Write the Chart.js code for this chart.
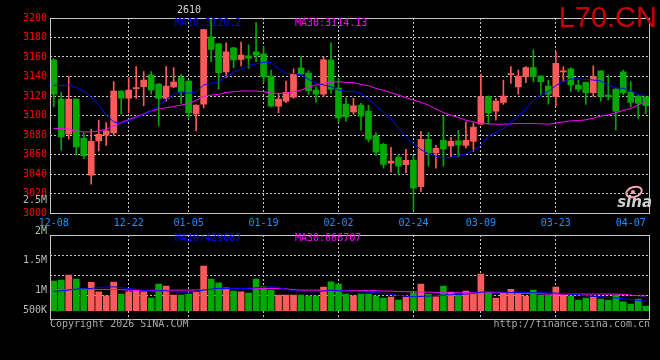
<!DOCTYPE html>
<html>
<head>
<meta charset="utf-8">
<script src="https://cdn.jsdelivr.net/npm/chart.js@4/dist/chart.umd.min.js"></script>
<style>
html, body { margin: 0; padding: 0; background: #000; }
#wrap { position: relative; width: 660px; height: 360px; background: #000; overflow: hidden; }
#kline { position: absolute; left: 0; top: 0; }
#vol { position: absolute; left: 0; top: 190px; }
</style>
</head>
<body>
<div id="wrap">
  <canvas id="kline" width="660" height="232"></canvas>
  <canvas id="vol" width="660" height="170"></canvas>
</div>
<script>
// trading days shown on the chart
const dates = [
  '12-08','12-09','12-10','12-11','12-12','12-15','12-16','12-17','12-18','12-19',
  '12-22','12-23','12-24','12-25','12-26','12-29','12-30','12-31','01-05','01-06',
  '01-07','01-08','01-09','01-12','01-13','01-14','01-15','01-16','01-19','01-20',
  '01-21','01-22','01-23','01-26','01-27','01-28','01-29','01-30','02-02','02-03',
  '02-04','02-05','02-06','02-09','02-10','02-11','02-12','02-13','02-24','02-25',
  '02-26','02-27','03-02','03-03','03-04','03-05','03-06','03-09','03-10','03-11',
  '03-12','03-13','03-16','03-17','03-18','03-19','03-20','03-23','03-24','03-25',
  '03-26','03-27','03-30','03-31','04-01','04-02','04-03','04-07','04-08','04-09'
];
const dateTicks = ['12-08','12-22','01-05','01-19','02-02','02-24','03-09','03-23','04-07'];
const dateGrid = ['12-22','01-05','01-19','02-02','02-24','03-09','03-23'];

const open = [
  3157,3116.8,3080.8,3116.8,3076.6,3038.8,3073.9,3079.7,3082.1,3125.1,
  3117.9,3127.5,3129.6,3141.6,3132.3,3117.5,3129.2,3138.8,3135.4,3101.7,
  3111.7,3180.8,3173.5,3144.7,3169.4,3157.4,3161.2,3165.3,3163.2,3140.5,
  3109.6,3114.8,3118.9,3148.8,3143.6,3126.1,3122,3157,3128.2,3111.7,
  3103.8,3110.7,3104.5,3079,3070.4,3051.2,3057,3049.5,3054,3027.1,
  3075.6,3061.5,3074.6,3068.7,3073.9,3069.4,3073.5,3091,3119.2,3104.5,
  3113.4,3142,3129.2,3139.9,3149.1,3140.5,3130.2,3119.2,3144.7,3147.8,
  3131.3,3134,3123.4,3145.7,3121,3127.1,3144.7,3124.1,3119.9,3119.2
];
const high = [
  3158,3123.7,3139.9,3117,3082.5,3085.9,3095.2,3092.8,3134.7,3125.5,
  3138.8,3150.2,3145,3145,3133,3150.2,3149.1,3142.3,3136,3111,
  3188.5,3200,3174,3174.6,3170,3175.3,3172.5,3195.2,3170.8,3146.7,
  3122.3,3135.4,3147.8,3160.5,3146,3129.5,3159.8,3174.6,3138.1,3118.2,
  3117.5,3112.4,3110.7,3082.5,3071.5,3067.4,3059.8,3065.3,3059.1,3083.8,
  3082.8,3069.4,3099.3,3077.7,3084.9,3093.5,3092.4,3142.6,3120.3,3117.5,
  3136.4,3150.2,3146.5,3150.2,3167.4,3141,3136.4,3165.3,3150.2,3149.1,
  3136.4,3134.5,3150.9,3146,3141.6,3127.5,3146.7,3134.7,3120.5,3119.5
];
const low = [
  3109,3064.3,3075.6,3059.8,3055.7,3029.6,3063.6,3069.4,3079.7,3101.4,
  3102.7,3117.5,3110,3122,3089.3,3114.8,3128.5,3112.4,3096.9,3084.2,
  3107.9,3155.3,3127.1,3138.8,3149.1,3150.9,3148.5,3155.3,3133.7,3108.6,
  3102.7,3113.1,3117.9,3142,3121.6,3113.7,3119.2,3122.7,3092.4,3094.2,
  3101.4,3084.9,3072.9,3059.1,3046,3041.9,3039.5,3041.2,3002.4,3021.9,
  3048.1,3046,3048.1,3057.4,3057.4,3066.7,3063.2,3091,3091,3095.2,
  3111.3,3133,3122,3133.7,3134.7,3121,3111.7,3110,3134.7,3124.4,
  3124.4,3111.3,3119.9,3114.8,3115.8,3084.9,3121,3108.9,3096.9,3102
];
const close = [
  3122,3078,3116.8,3067.7,3058.8,3073.5,3080.8,3084.2,3125.1,3117.9,
  3126.1,3128.5,3136.4,3126.1,3117.5,3130.2,3134.4,3123.7,3102.7,3110.7,
  3188,3167.7,3144,3165.3,3157,3161.9,3158.8,3161.9,3139.5,3109.6,
  3116.8,3123.7,3142.6,3142.6,3125.4,3122,3157,3127.1,3097.6,3098.6,
  3110,3099.3,3075.6,3062.5,3049.8,3053.3,3048.1,3054,3025.4,3075.6,
  3061.5,3066.3,3065.6,3073.5,3069.8,3074.6,3088,3119.2,3102.7,3114.8,
  3119.9,3142.6,3140.5,3149.1,3139.9,3134.7,3122,3153.6,3145.4,3131.3,
  3127.1,3123.4,3139.9,3119.9,3119.2,3104.5,3123.4,3113.4,3112.4,3110
];
const ma10 = [
  3131,3130.6,3131.3,3128.5,3125,3119.2,3111.3,3100.3,3093.5,3091.8,
  3094.2,3097.6,3101,3104.5,3110,3116.8,3121.6,3124.4,3122.7,3124.4,
  3131.3,3133,3134.7,3139.9,3144.3,3147.4,3151.2,3152.9,3154.6,3154.3,
  3147.8,3143.3,3143,3141.6,3137.1,3133,3131.3,3129.6,3126.1,3124.7,
  3124.7,3122.7,3116.8,3110,3103.1,3096.2,3087.3,3078,3071.1,3065,
  3060.8,3058.1,3056.4,3057,3058.8,3060.5,3064.3,3069.4,3078.7,3082.5,
  3086.6,3092.8,3099,3106.5,3115.5,3121,3124.7,3130.6,3135,3137.5,
  3137.5,3137.1,3136.4,3135.4,3131.3,3128.5,3127.8,3125.1,3121.6,3120.2
];
const ma30 = [
  3086.6,3086.6,3086,3084,3083.2,3083.2,3084,3086,3089,3092.8,
  3095.9,3098.6,3101.7,3104.8,3106.5,3107.9,3109.3,3110.7,3112.4,3115.5,
  3119.6,3121,3121.6,3123.7,3124.4,3125.1,3125.1,3125.1,3124.4,3123,
  3122.7,3122.7,3124.4,3126.1,3129.2,3131.3,3133,3134,3134.7,3134,
  3133.7,3132,3130.6,3127.8,3125.8,3123.4,3121,3118.2,3115.8,3113.4,
  3110.7,3106.5,3103.1,3100.3,3097.9,3095.2,3093.5,3092.1,3091.4,3091.1,
  3091.1,3091.4,3091.8,3091.8,3091.8,3091.4,3091.1,3092.1,3093.5,3094.5,
  3094.8,3095.5,3097.3,3099.3,3100.7,3102.7,3105.2,3107.2,3110.7,3114.13
];

const volume = [
  1338000,1383000,1608000,1428000,1010000,1280000,856000,676000,1293000,752000,
  856000,930000,856000,572000,1203000,1113000,707000,707000,752000,856000,
  2014000,1428000,1262000,1037000,887000,856000,797000,1428000,1082000,930000,
  707000,707000,707000,707000,662000,662000,1068000,1307000,1203000,752000,
  676000,752000,752000,662000,572000,617000,482000,604000,811000,1203000,
  752000,631000,1113000,843000,752000,887000,784000,1654000,856000,572000,
  784000,964000,811000,662000,930000,707000,707000,1068000,707000,662000,
  482000,572000,604000,527000,482000,707000,406000,302000,527000,212000
];
const volMa10 = [
  873000,903000,933000,978000,993000,1008000,1053000,1068000,1083000,1038000,
  1008000,963000,918000,888000,903000,903000,858000,843000,843000,873000,
  933000,978000,1008000,1008000,1008000,1008000,1008000,1038000,1053000,1083000,
  1053000,963000,903000,873000,858000,858000,888000,933000,903000,888000,
  873000,858000,843000,813000,783000,738000,693000,663000,632000,648000,
  663000,693000,708000,723000,738000,753000,783000,843000,858000,858000,
  843000,828000,828000,828000,813000,813000,813000,798000,783000,753000,
  723000,678000,663000,632000,602000,572000,542000,512000,467000,429687
];
const volMa30 = [
  963000,963000,963000,963000,963000,963000,963000,963000,960000,955000,
  930000,918000,918000,918000,925000,933000,933000,933000,933000,940000,
  955000,963000,968000,990000,1008000,1008000,1008000,1008000,1008000,1008000,
  1000000,990000,950000,933000,933000,933000,925000,910000,903000,903000,
  903000,903000,918000,905000,888000,888000,870000,858000,858000,843000,
  843000,830000,813000,813000,813000,813000,813000,813000,813000,813000,
  813000,800000,783000,783000,783000,770000,753000,753000,753000,753000,
  753000,753000,753000,753000,753000,753000,738000,708000,678000,666707
];

// volume axis: range, grid lines and the (oddly placed) sina labels
const volMin = -374000, volMax = 3425000;
const volGrid = [707000, 1608000, 2510000, 3425000];
const volTickLabels = ['2.5M', '2M', '1.5M', '1M', '500K'];
const volTickAt = [5010000, 3590000, 2260000, 910000, 0];

const RED = '#ff5a5a', GREEN = '#00a800';
const candleColor = close.map((c, i) => c >= open[i] ? RED : GREEN);
const mono = 'DejaVu Sans Mono';
const gridColor = ctx => dateGrid.includes(dates[ctx.index]) ? '#c8c8c8' : 'rgba(0,0,0,0)';

const frame = {
  id: 'frame',
  afterDatasetsDraw(chart) {
    const { ctx, chartArea: a } = chart;
    ctx.save();
    ctx.strokeStyle = '#c8c8c8';
    ctx.lineWidth = 1;
    ctx.strokeRect(Math.round(a.left) + 0.5, Math.round(a.top) + 0.5,
      Math.round(a.right - a.left) - 1, Math.round(a.bottom - a.top));
    ctx.restore();
  }
};

const klineText = {
  id: 'klineText',
  afterDraw(chart) {
    const ctx = chart.ctx;
    ctx.save();
    ctx.font = '10px "' + mono + '"';
    ctx.textBaseline = 'middle';
    ctx.textAlign = 'left';
    ctx.fillStyle = '#d8d8d8';
    ctx.fillText('2610', 177, 10);
    ctx.fillStyle = '#0000ff';
    ctx.fillText('MA10:' + ma10[ma10.length - 1], 175, 23);
    ctx.fillStyle = '#ff00ff';
    ctx.fillText('MA30:' + ma30[ma30.length - 1], 295, 23);

    ctx.font = '29px "Liberation Sans"';
    ctx.textAlign = 'right';
    ctx.textBaseline = 'alphabetic';
    ctx.fillStyle = '#cc0000';
    ctx.fillText('L70.CN', 657, 27);

    // sina logo
    ctx.strokeStyle = '#f2a6b4';
    ctx.lineWidth = 2;
    ctx.beginPath();
    ctx.ellipse(634, 192, 8, 5, -0.3, 0, Math.PI * 2);
    ctx.stroke();
    ctx.fillStyle = '#f2a6b4';
    ctx.beginPath();
    ctx.arc(633, 192, 2, 0, Math.PI * 2);
    ctx.fill();
    ctx.font = 'italic bold 15px "DejaVu Sans"';
    ctx.fillStyle = '#d0d0d0';
    ctx.fillText('sina', 652, 207);
    ctx.restore();
  }
};

const volText = {
  id: 'volText',
  afterDraw(chart) {
    const ctx = chart.ctx;
    const y = chart.scales.y;
    ctx.save();
    ctx.font = '10px "' + mono + '"';
    ctx.textBaseline = 'middle';
    ctx.textAlign = 'right';
    ctx.fillStyle = '#b8b8b8';
    volTickLabels.forEach((t, i) => ctx.fillText(t, 47, y.getPixelForValue(volTickAt[i])));
    ctx.textAlign = 'left';
    ctx.fillStyle = '#0000ff';
    ctx.fillText('MA10:' + volMa10[volMa10.length - 1], 175, 48);
    ctx.fillStyle = '#ff00ff';
    ctx.fillText('MA30:' + volMa30[volMa30.length - 1], 295, 48);
    ctx.fillStyle = '#a8a8a8';
    ctx.fillText('Copyright 2026 SINA.COM', 50, 134);
    ctx.textAlign = 'right';
    ctx.fillText('http://finance.sina.com.cn', 650, 134);
    ctx.restore();
  }
};

new Chart(document.getElementById('kline'), {
  type: 'bar',
  data: {
    labels: dates,
    datasets: [
      { type: 'line', data: ma10, borderColor: '#0000ff', borderWidth: 1, pointRadius: 0, order: 0 },
      { type: 'line', data: ma30, borderColor: '#ff00ff', borderWidth: 1, pointRadius: 0, order: 0 },
      { data: open.map((o, i) => [o, close[i]]), backgroundColor: candleColor,
        barThickness: 6, grouped: false, minBarLength: 1, order: 1 },
      { data: low.map((l, i) => [l, high[i]]), backgroundColor: candleColor,
        barThickness: 1, grouped: false, order: 2 }
    ]
  },
  options: {
    responsive: false,
    animation: false,
    devicePixelRatio: 1,
    layout: { padding: { top: 18, right: 10.5, left: 0, bottom: 0 } },
    plugins: { legend: { display: false }, tooltip: { enabled: false } },
    scales: {
      x: {
        offset: true,
        grid: { offset: false, drawTicks: false, color: gridColor },
        border: { display: false, dash: [2, 2] },
        ticks: {
          autoSkip: false, maxRotation: 0, padding: 4, color: '#1e90ff',
          font: { family: mono, size: 10 },
          callback: (v, i) => dateTicks.includes(dates[i]) ? dates[i] : ''
        },
        afterFit: s => { s.height = 19; }
      },
      y: {
        min: 3000, max: 3200,
        ticks: {
          stepSize: 20, color: '#ff0000', padding: 3, font: { family: mono, size: 10 },
          callback: v => String(v)
        },
        grid: { color: '#c8c8c8', drawTicks: false },
        border: { display: false, dash: [2, 2] },
        afterFit: s => { s.width = 50; }
      }
    }
  },
  plugins: [frame, klineText]
});

new Chart(document.getElementById('vol'), {
  type: 'bar',
  data: {
    labels: dates,
    datasets: [
      { type: 'line', data: volMa10, borderColor: '#0000ff', borderWidth: 1, pointRadius: 0, order: 0 },
      { type: 'line', data: volMa30, borderColor: '#ff00ff', borderWidth: 1, pointRadius: 0, order: 0 },
      { data: volume, backgroundColor: candleColor, barThickness: 6, order: 1 }
    ]
  },
  options: {
    responsive: false,
    animation: false,
    devicePixelRatio: 1,
    layout: { padding: { top: 45, right: 10.5, left: 0, bottom: 0 } },
    plugins: { legend: { display: false }, tooltip: { enabled: false } },
    scales: {
      x: {
        offset: true,
        grid: { offset: false, drawTicks: false, color: gridColor },
        border: { display: false, dash: [2, 2] },
        ticks: { display: false },
        afterFit: s => { s.height = 41; }
      },
      y: {
        min: volMin, max: volMax,
        afterBuildTicks: s => { s.ticks = volGrid.map(v => ({ value: v })); },
        ticks: { display: false },
        grid: { color: '#c8c8c8', drawTicks: false },
        border: { display: false, dash: [2, 2] },
        afterFit: s => { s.width = 50; }
      }
    }
  },
  plugins: [frame, volText]
});
</script>
</body>
</html>
